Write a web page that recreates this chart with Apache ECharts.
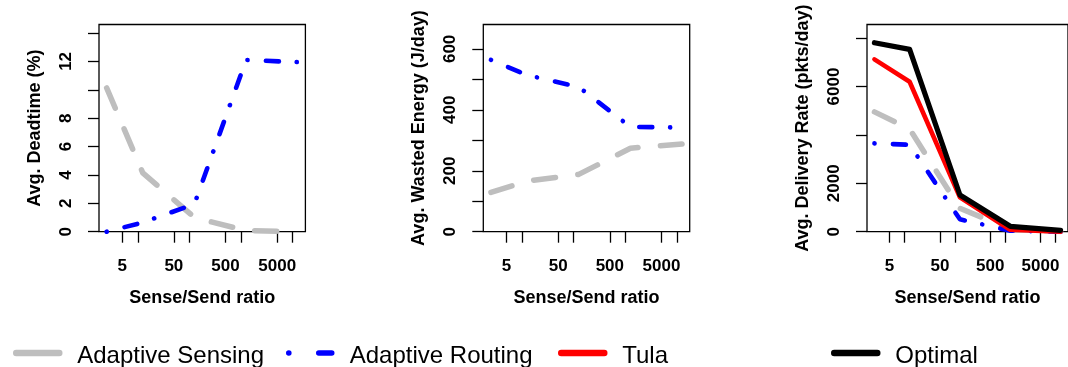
<!DOCTYPE html>
<html><head><meta charset="utf-8">
<script src="https://cdn.jsdelivr.net/npm/echarts@6/dist/echarts.min.js"></script>
<style>html,body{margin:0;padding:0;background:#fff}#c{width:1068px;height:367px}</style>
</head><body><div id="c"></div>
<script>
// ---- data ----
const sendRatio = [2.5, 12.5, 125, 1250, 12500];
const xTicks = [5, 10, 50, 100, 500, 1000, 5000, 10000];
const xTickLabels = [5, 50, 500, 5000];

const deadSensing = [10.13, 4.15, 1.0, 0.07, 0.02];
const deadRouting = [0, 0.65, 1.95, 12.1, 11.95];
const deadTicks = [0, 2, 4, 6, 8, 10, 12, 14];
const deadTickLabels = [0, 2, 4, 6, 8, 12];

const energySensing = [129, 166, 188, 274, 288];
const energyRouting = [564, 514, 475, 344, 342];
const energyTicks = [0, 100, 200, 300, 400, 500, 600];
const energyTickLabels = [0, 200, 400, 600];

const rateSensing = [4950, 4240, 966, 110, 10];
const rateRouting = [3650, 3590, 512, 40, 5];
const rateTula = [7120, 6196, 1420, 80, 5];
const rateOptimal = [7807, 7534, 1516, 222, 55];
const rateTicks = [0, 2000, 4000, 6000, 8000];
const rateTickLabels = [0, 2000, 6000];

const seriesNames = ['Adaptive Sensing', 'Adaptive Routing', 'Tula', 'Optimal'];
const xTitle = 'Sense/Send ratio';
const yTitles = ['Avg. Deadtime (%)', 'Avg. Wasted Energy (J/day)', 'Avg. Delivery Rate (pkts/day)'];

// ---- chart ----
const FONT = 'Liberation Sans, Arial, Helvetica, sans-serif';
const lg = v => Math.log10(v);
const lo = lg(sendRatio[0]), hi = lg(sendRatio[sendRatio.length - 1]);
const pad = 0.04 * (hi - lo);

const styles = {
  'Adaptive Sensing': {color: '#BEBEBE', width: 5.5, type: [22, 22.5], cap: 'round', join: 'round'},
  'Adaptive Routing': {color: '#0000FF', width: 4.6, type: [0.1, 18.4, 13, 17.8], cap: 'round', join: 'round'},
  'Tula': {color: '#FF0000', width: 4.6, type: 'solid', cap: 'round', join: 'round'},
  'Optimal': {color: '#000000', width: 5.2, type: 'solid', cap: 'round', join: 'round'}
};

const gridLefts = [99, 483.3, 867];
const grids = gridLefts.map(l => ({
  left: l, top: 24.5, width: 206.4, height: 207.2,
  show: true, borderColor: '#000', borderWidth: 1.3, backgroundColor: 'transparent', containLabel: false
}));

const xAxes = grids.map((g, i) => ({
  type: 'value', gridIndex: i, min: lo - pad, max: hi + pad,
  name: xTitle, nameLocation: 'middle', nameGap: 57,
  nameTextStyle: {fontFamily: FONT, fontWeight: 'bold', fontSize: 18, color: '#000'},
  axisLine: {show: false},
  splitLine: {show: false},
  axisTick: {show: true, length: 11, customValues: xTicks.map(lg), lineStyle: {color: '#000', width: 1.3}},
  axisLabel: {show: true, margin: 26, customValues: xTickLabels.map(lg),
    formatter: v => String(Math.round(Math.pow(10, v))),
    fontFamily: FONT, fontWeight: 'bold', fontSize: 17, color: '#000'}
}));

const yDefs = [
  {max: 14.6, ticks: deadTicks, labels: deadTickLabels},
  {max: 680, ticks: energyTicks, labels: energyTickLabels},
  {max: 8560, ticks: rateTicks, labels: rateTickLabels}
];
const yAxes = yDefs.map((d, i) => ({
  type: 'value', gridIndex: i, min: 0, max: d.max,
  name: yTitles[i], nameLocation: 'middle', nameGap: 55, nameRotate: 90,
  nameTextStyle: {fontFamily: FONT, fontWeight: 'bold', fontSize: 18, color: '#000'},
  axisLine: {show: false},
  splitLine: {show: false},
  axisTick: {show: true, length: 11, customValues: d.ticks, lineStyle: {color: '#000', width: 1.3}},
  axisLabel: {show: true, margin: 24, rotate: 90, customValues: d.labels,
    formatter: v => String(Math.round(v)),
    fontFamily: FONT, fontWeight: 'bold', fontSize: 17, color: '#000'}
}));

function mk(name, idx, vals) {
  const st = styles[name];
  return {
    type: 'line', name: name, xAxisIndex: idx, yAxisIndex: idx,
    data: sendRatio.map((x, i) => [lg(x), vals[i]]),
    symbol: 'none', showSymbol: false, silent: true, clip: true,
    color: st.color,
    itemStyle: {color: st.color},
    lineStyle: st
  };
}

const series = [
  mk('Adaptive Sensing', 0, deadSensing),
  mk('Adaptive Routing', 0, deadRouting),
  mk('Adaptive Sensing', 1, energySensing),
  mk('Adaptive Routing', 1, energyRouting),
  mk('Adaptive Sensing', 2, rateSensing),
  mk('Adaptive Routing', 2, rateRouting),
  mk('Tula', 2, rateTula),
  mk('Optimal', 2, rateOptimal)
];

const legendLefts = [13, 286, 558, 831];
const legendLine = {
  'Adaptive Sensing': {width: 6.5, type: 'solid', cap: 'round'},
  'Adaptive Routing': {width: 5.5, type: [0.1, 29.9, 20, 10], cap: 'round'},
  'Tula': {width: 6.5, type: 'solid', cap: 'round'},
  'Optimal': {width: 6.5, type: 'solid', cap: 'round'}
};
const legends = seriesNames.map((n, i) => ({
  show: true, left: legendLefts[i], top: 338, padding: 0,
  itemWidth: 43, itemHeight: 24, selectedMode: false,
  data: [{name: n, lineStyle: legendLine[n], itemStyle: {opacity: 0, color: 'transparent', borderWidth: 0}}],
  formatter: '{s| }\n{t|{name}}',
  textStyle: {fontFamily: FONT, fontSize: 24, color: '#000', padding: [0, 0, 0, 13],
    rich: {
      s: {fontSize: 4, lineHeight: 6, fontFamily: FONT},
      t: {fontSize: 24, lineHeight: 26, fontFamily: FONT, color: '#000'}
    }}
}));

const chart = echarts.init(document.getElementById('c'), null, {renderer: 'canvas'});
chart.setOption({
  animation: false,
  backgroundColor: '#fff',
  grid: grids,
  xAxis: xAxes,
  yAxis: yAxes,
  legend: legends,
  series: series
});
</script>
</body></html>
